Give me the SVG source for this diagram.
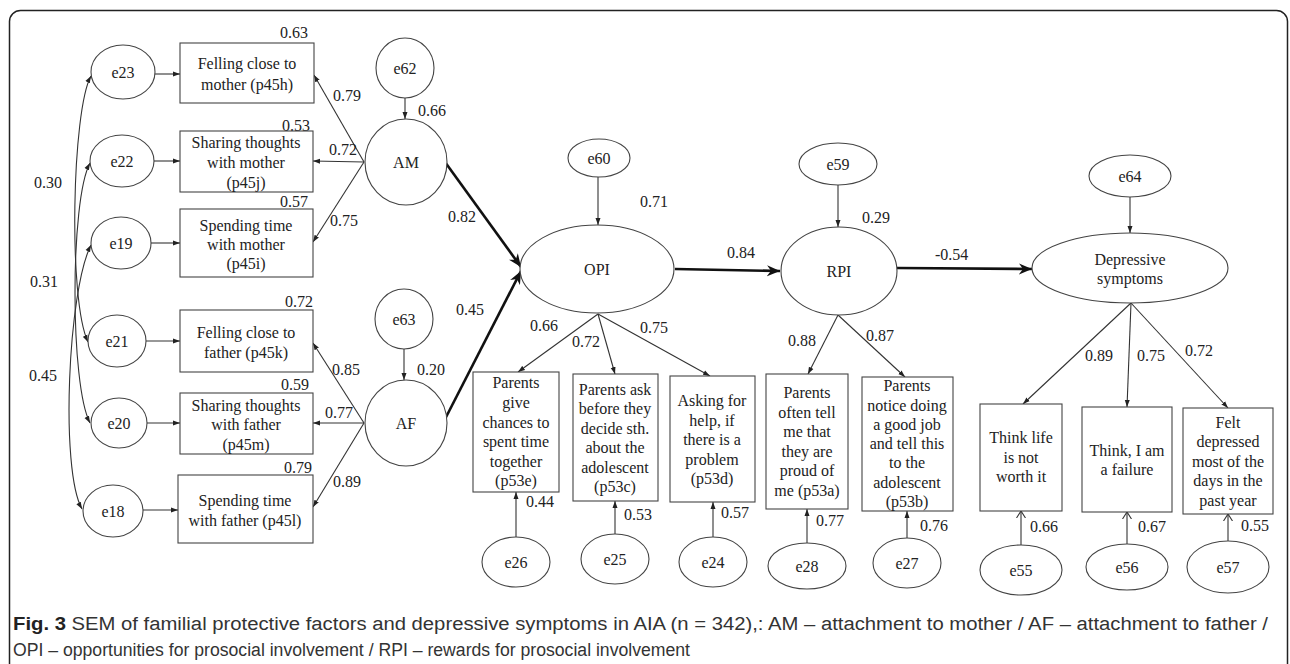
<svg xmlns="http://www.w3.org/2000/svg" width="1290" height="664" viewBox="0 0 1290 664">
<style>
.n{fill:#fff;stroke:#444;stroke-width:1.1}
.t{font-family:"Liberation Serif","Times New Roman",serif;font-size:16px;fill:#222}
.c{text-anchor:middle}
.e{text-anchor:end}
.ln{stroke:#333;stroke-width:1.1;fill:none}
.th{stroke:#111;stroke-width:2.6;fill:none}
.cap{font-family:"Liberation Sans Narrow","Liberation Sans",Arial,sans-serif;font-size:18px;fill:#333}
</style>
<defs>
<marker id="a" markerWidth="8" markerHeight="6" refX="7" refY="3" orient="auto" markerUnits="userSpaceOnUse"><path d="M0,0.5 L7,3 L0,5.5 z" fill="#222"/></marker>
<marker id="a2" markerWidth="8" markerHeight="6" refX="7" refY="3" orient="auto-start-reverse" markerUnits="userSpaceOnUse"><path d="M0,0.5 L7,3 L0,5.5 z" fill="#222"/></marker>
<marker id="o" markerWidth="8" markerHeight="10" refX="7" refY="5" orient="auto" markerUnits="userSpaceOnUse"><path d="M0,0.5 L7,5 L0,9.5" fill="none" stroke="#333" stroke-width="1.1"/></marker>
<marker id="b" markerWidth="14" markerHeight="12" refX="13" refY="6" orient="auto" markerUnits="userSpaceOnUse"><path d="M0,0.5 L13,6 L0,11.5 L4,6 z" fill="#111"/></marker>
</defs>
<rect x="9.5" y="10.5" width="1278" height="720" rx="11" fill="none" stroke="#222" stroke-width="1.5"/>

<g id="connectors">
<path class="ln" marker-start="url(#a2)" marker-end="url(#a2)" d="M91,76 C72,110 68,300 88,342"/>
<path class="ln" marker-start="url(#a2)" marker-end="url(#a2)" d="M90,163 C70,200 70,385 90,423"/>
<path class="ln" marker-start="url(#a2)" marker-end="url(#a2)" d="M91,245 C68,290 60,470 82,509"/>
<line class="ln" marker-end="url(#a)" x1="155" y1="74" x2="180" y2="74"/>
<line class="ln" marker-end="url(#a)" x1="154" y1="161" x2="180" y2="161"/>
<line class="ln" marker-end="url(#a)" x1="151" y1="243" x2="180" y2="243"/>
<line class="ln" marker-end="url(#a)" x1="146" y1="341" x2="180" y2="341"/>
<line class="ln" marker-end="url(#a)" x1="147" y1="423" x2="180" y2="423"/>
<line class="ln" marker-end="url(#a)" x1="143" y1="510" x2="178" y2="510"/>
<line class="ln" marker-end="url(#a)" x1="364" y1="162" x2="314" y2="75"/>
<line class="ln" marker-end="url(#a)" x1="364" y1="162" x2="313" y2="161"/>
<line class="ln" marker-end="url(#a)" x1="364" y1="162" x2="313" y2="242"/>
<line class="ln" marker-end="url(#a)" x1="364" y1="423" x2="313" y2="343"/>
<line class="ln" marker-end="url(#a)" x1="364" y1="423" x2="313" y2="423"/>
<line class="ln" marker-end="url(#a)" x1="364" y1="423" x2="313" y2="507"/>
<line class="ln" marker-end="url(#a)" x1="405" y1="98" x2="405" y2="119"/>
<line class="ln" marker-end="url(#a)" x1="404" y1="349" x2="404" y2="380"/>
<line class="ln" marker-end="url(#a)" x1="598" y1="177" x2="598" y2="225"/>
<line class="ln" marker-end="url(#a)" x1="838" y1="185" x2="838" y2="227"/>
<line class="ln" marker-end="url(#a)" x1="1130" y1="197" x2="1130" y2="233"/>
<line class="th" marker-end="url(#b)" x1="445" y1="162" x2="521" y2="267"/>
<line class="th" marker-end="url(#b)" x1="443" y1="423" x2="521" y2="271"/>
<line class="th" marker-end="url(#b)" x1="675" y1="269" x2="780" y2="271"/>
<line class="th" marker-end="url(#b)" x1="897" y1="268" x2="1032" y2="269"/>
<line class="ln" marker-end="url(#a)" x1="598" y1="314" x2="518" y2="372"/>
<line class="ln" marker-end="url(#a)" x1="598" y1="314" x2="615" y2="374"/>
<line class="ln" marker-end="url(#a)" x1="598" y1="314" x2="710" y2="376"/>
<line class="ln" marker-end="url(#a)" x1="838" y1="315" x2="808" y2="374"/>
<line class="ln" marker-end="url(#a)" x1="838" y1="315" x2="905" y2="377"/>
<line class="ln" marker-end="url(#a)" x1="1131" y1="303" x2="1023" y2="404"/>
<line class="ln" marker-end="url(#a)" x1="1131" y1="303" x2="1127" y2="407"/>
<line class="ln" marker-end="url(#a)" x1="1131" y1="303" x2="1228" y2="408"/>
<line class="ln" marker-end="url(#a)" x1="516" y1="537" x2="516" y2="492"/>
<line class="ln" marker-end="url(#a)" x1="615" y1="534" x2="615" y2="501"/>
<line class="ln" marker-end="url(#a)" x1="713" y1="537" x2="713" y2="502"/>
<line class="ln" marker-end="url(#a)" x1="807" y1="543" x2="807" y2="509"/>
<line class="ln" marker-end="url(#a)" x1="907" y1="538" x2="907" y2="511"/>
<line class="ln" marker-end="url(#o)" x1="1021" y1="545" x2="1021" y2="511"/>
<line class="ln" marker-end="url(#o)" x1="1127" y1="544" x2="1127" y2="512"/>
<line class="ln" marker-end="url(#o)" x1="1228" y1="541" x2="1228" y2="514"/>
</g>

<g id="labels" class="t">
<text x="62" y="188" class="e">0.30</text>
<text x="58" y="287" class="e">0.31</text>
<text x="57" y="381" class="e">0.45</text>
<text x="308" y="38" class="e">0.63</text>
<text x="310" y="131" class="e">0.53</text>
<text x="308" y="207" class="e">0.57</text>
<text x="313" y="307" class="e">0.72</text>
<text x="309" y="390" class="e">0.59</text>
<text x="312" y="473" class="e">0.79</text>
<text x="333" y="101">0.79</text>
<text x="329" y="155">0.72</text>
<text x="330" y="226">0.75</text>
<text x="332" y="375">0.85</text>
<text x="325" y="418">0.77</text>
<text x="333" y="487">0.89</text>
<text x="418" y="116">0.66</text>
<text x="417" y="375">0.20</text>
<text x="448" y="222">0.82</text>
<text x="456" y="315">0.45</text>
<text x="640" y="207">0.71</text>
<text x="727" y="258">0.84</text>
<text x="862" y="223">0.29</text>
<text x="935" y="260">-0.54</text>
<text x="530" y="331">0.66</text>
<text x="572" y="347">0.72</text>
<text x="640" y="333">0.75</text>
<text x="788" y="346">0.88</text>
<text x="866" y="341">0.87</text>
<text x="1085" y="361">0.89</text>
<text x="1137" y="361">0.75</text>
<text x="1185" y="356">0.72</text>
<text x="526" y="507">0.44</text>
<text x="624" y="520">0.53</text>
<text x="721" y="518">0.57</text>
<text x="816" y="526">0.77</text>
<text x="920" y="531">0.76</text>
<text x="1030" y="532">0.66</text>
<text x="1138" y="532">0.67</text>
<text x="1241" y="531">0.55</text>
</g>

<g id="e23"><ellipse class="n" cx="123" cy="72" rx="32" ry="27"/><text class="t c" x="123" y="78">e23</text></g>
<g id="e22"><ellipse class="n" cx="122" cy="161" rx="32" ry="26"/><text class="t c" x="122" y="167">e22</text></g>
<g id="e19"><ellipse class="n" cx="121" cy="243" rx="30" ry="26"/><text class="t c" x="121" y="249">e19</text></g>
<g id="e21"><ellipse class="n" cx="117" cy="341" rx="29" ry="26"/><text class="t c" x="117" y="347">e21</text></g>
<g id="e20"><ellipse class="n" cx="119" cy="423" rx="28" ry="25"/><text class="t c" x="119" y="429">e20</text></g>
<g id="e18"><ellipse class="n" cx="113" cy="511" rx="30" ry="26"/><text class="t c" x="113" y="517">e18</text></g>

<g id="p45h"><rect class="n" x="180" y="43" width="134" height="60"/><text class="t c" x="247" y="69">Felling close to</text><text class="t c" x="247" y="90">mother (p45h)</text></g>
<g id="p45j"><rect class="n" x="180" y="131" width="133" height="61"/><text class="t c" x="246" y="148">Sharing thoughts</text><text class="t c" x="246" y="168">with mother</text><text class="t c" x="246" y="188">(p45j)</text></g>
<g id="p45i"><rect class="n" x="180" y="209" width="133" height="68"/><text class="t c" x="246" y="231">Spending time</text><text class="t c" x="246" y="250">with mother</text><text class="t c" x="246" y="269">(p45i)</text></g>
<g id="p45k"><rect class="n" x="180" y="310" width="133" height="62"/><text class="t c" x="246" y="338">Felling close to</text><text class="t c" x="246" y="358">father (p45k)</text></g>
<g id="p45m"><rect class="n" x="180" y="393" width="133" height="61"/><text class="t c" x="246" y="411">Sharing thoughts</text><text class="t c" x="246" y="430">with father</text><text class="t c" x="246" y="450">(p45m)</text></g>
<g id="p45l"><rect class="n" x="178" y="475" width="135" height="68"/><text class="t c" x="245" y="506">Spending time</text><text class="t c" x="245" y="526">with father (p45l)</text></g>

<g id="e62"><ellipse class="n" cx="405" cy="68" rx="29" ry="30"/><text class="t c" x="405" y="74">e62</text></g>
<g id="AM"><ellipse class="n" cx="406" cy="162" rx="41" ry="43"/><text class="t c" x="406" y="168">AM</text></g>
<g id="e63"><ellipse class="n" cx="404" cy="319" rx="29" ry="30"/><text class="t c" x="404" y="325">e63</text></g>
<g id="AF"><ellipse class="n" cx="406" cy="423" rx="41" ry="43"/><text class="t c" x="406" y="429">AF</text></g>

<g id="e60"><ellipse class="n" cx="599" cy="158" rx="31" ry="19"/><text class="t c" x="599" y="164">e60</text></g>
<g id="OPI"><ellipse class="n" cx="597" cy="269" rx="77" ry="44"/><text class="t c" x="597" y="275">OPI</text></g>
<g id="e59"><ellipse class="n" cx="838" cy="164" rx="39" ry="21"/><text class="t c" x="838" y="170">e59</text></g>
<g id="RPI"><ellipse class="n" cx="839" cy="271" rx="58" ry="44"/><text class="t c" x="839" y="277">RPI</text></g>
<g id="e64"><ellipse class="n" cx="1130" cy="176" rx="41" ry="21"/><text class="t c" x="1130" y="182">e64</text></g>
<g id="Dep"><ellipse class="n" cx="1130" cy="268" rx="98" ry="35"/><text class="t c" x="1130" y="265">Depressive</text><text class="t c" x="1130" y="284">symptoms</text></g>

<g id="p53e"><rect class="n" x="473" y="372" width="86" height="120"/><text class="t c" x="516" y="388">Parents</text><text class="t c" x="516" y="408">give</text><text class="t c" x="516" y="428">chances to</text><text class="t c" x="516" y="447">spent time</text><text class="t c" x="516" y="467">together</text><text class="t c" x="516" y="486">(p53e)</text></g>
<g id="p53c"><rect class="n" x="573" y="374" width="85" height="127"/><text class="t c" x="615" y="395">Parents ask</text><text class="t c" x="615" y="414">before they</text><text class="t c" x="615" y="434">decide sth.</text><text class="t c" x="615" y="453">about the</text><text class="t c" x="615" y="473">adolescent</text><text class="t c" x="615" y="492">(p53c)</text></g>
<g id="p53d"><rect class="n" x="670" y="376" width="85" height="126"/><text class="t c" x="712" y="406">Asking for</text><text class="t c" x="712" y="426">help, if</text><text class="t c" x="712" y="445">there is a</text><text class="t c" x="712" y="465">problem</text><text class="t c" x="712" y="484">(p53d)</text></g>
<g id="p53a"><rect class="n" x="766" y="374" width="82" height="135"/><text class="t c" x="807" y="398">Parents</text><text class="t c" x="807" y="418">often tell</text><text class="t c" x="807" y="437">me that</text><text class="t c" x="807" y="457">they are</text><text class="t c" x="807" y="476">proud of</text><text class="t c" x="807" y="496">me (p53a)</text></g>
<g id="p53b"><rect class="n" x="862" y="377" width="91" height="134"/><text class="t c" x="907" y="391">Parents</text><text class="t c" x="907" y="411">notice doing</text><text class="t c" x="907" y="430">a good job</text><text class="t c" x="907" y="449">and tell this</text><text class="t c" x="907" y="468">to the</text><text class="t c" x="907" y="488">adolescent</text><text class="t c" x="907" y="507">(p53b)</text></g>
<g id="life"><rect class="n" x="980" y="404" width="82" height="107"/><text class="t c" x="1021" y="443">Think life</text><text class="t c" x="1021" y="463">is not</text><text class="t c" x="1021" y="482">worth it</text></g>
<g id="failure"><rect class="n" x="1082" y="407" width="90" height="105"/><text class="t c" x="1127" y="456">Think, I am</text><text class="t c" x="1127" y="475">a failure</text></g>
<g id="felt"><rect class="n" x="1183" y="408" width="90" height="106"/><text class="t c" x="1228" y="428">Felt</text><text class="t c" x="1228" y="447">depressed</text><text class="t c" x="1228" y="467">most of the</text><text class="t c" x="1228" y="486">days in the</text><text class="t c" x="1228" y="506">past year</text></g>

<g id="e26"><ellipse class="n" cx="516" cy="562" rx="34" ry="25"/><text class="t c" x="516" y="568">e26</text></g>
<g id="e25"><ellipse class="n" cx="615" cy="559" rx="34" ry="25"/><text class="t c" x="615" y="565">e25</text></g>
<g id="e24"><ellipse class="n" cx="713" cy="562" rx="34" ry="25"/><text class="t c" x="713" y="568">e24</text></g>
<g id="e28"><ellipse class="n" cx="807" cy="566" rx="39" ry="23"/><text class="t c" x="807" y="572">e28</text></g>
<g id="e27"><ellipse class="n" cx="907" cy="563" rx="34" ry="25"/><text class="t c" x="907" y="569">e27</text></g>
<g id="e55"><ellipse class="n" cx="1021" cy="570" rx="41" ry="25"/><text class="t c" x="1021" y="576">e55</text></g>
<g id="e56"><ellipse class="n" cx="1127" cy="567" rx="41" ry="23"/><text class="t c" x="1127" y="573">e56</text></g>
<g id="e57"><ellipse class="n" cx="1228" cy="567" rx="41" ry="26"/><text class="t c" x="1228" y="573">e57</text></g>

<g id="caption" class="cap">
<text x="13" y="630" textLength="1255" lengthAdjust="spacingAndGlyphs"><tspan font-weight="bold" fill="#222">Fig. 3</tspan> SEM of familial protective factors and depressive symptoms in AIA (n = 342),: AM – attachment to mother / AF – attachment to father /</text>
<text x="13" y="656" textLength="677" lengthAdjust="spacingAndGlyphs">OPI – opportunities for prosocial involvement / RPI – rewards for prosocial involvement</text>
</g>
</svg>
